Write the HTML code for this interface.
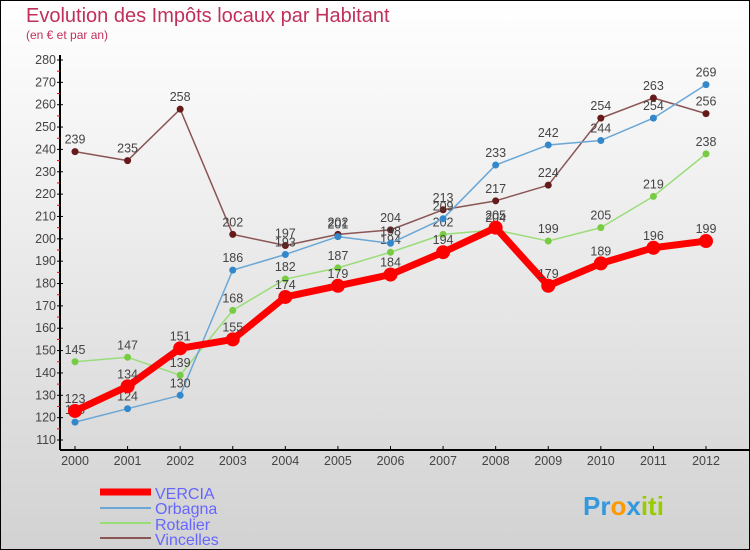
<!DOCTYPE html>
<html><head><meta charset="utf-8"><style>
body{margin:0}
#c{width:750px;height:550px;position:relative;overflow:hidden}
text{font-family:"Liberation Sans",sans-serif}
</style></head><body>
<div id="c">
<svg id="s" width="750" height="550" xmlns="http://www.w3.org/2000/svg">
<defs><linearGradient id="bg" x1="0" y1="0" x2="0" y2="1"><stop offset="0" stop-color="#ffffff"/><stop offset="1" stop-color="#d2d2d2"/></linearGradient></defs>
<rect x="0.5" y="0.5" width="749" height="549" fill="url(#bg)" stroke="#000"/>
<text x="26" y="22" font-size="20" fill="#c0305a">Evolution des Impôts locaux par Habitant</text>
<text x="26" y="39" font-size="12" fill="#c0305a">(en € et par an)</text>
<g id="axes"></g><g id="series"></g>
<g>
<line x1="100" y1="492" x2="151" y2="492" stroke="#ff0000" stroke-width="7"/>
<text x="155" y="499" font-size="16" fill="#6666ff">VERCIA</text>
<line x1="100" y1="508" x2="151" y2="508" stroke="#6aa7d6" stroke-width="2"/>
<text x="155" y="514" font-size="16" fill="#6666ff">Orbagna</text>
<line x1="100" y1="523" x2="151" y2="523" stroke="#99dd77" stroke-width="2"/>
<text x="155" y="530" font-size="16" fill="#6666ff">Rotalier</text>
<line x1="100" y1="538" x2="151" y2="538" stroke="#8a5555" stroke-width="2"/>
<text x="155" y="545" font-size="16" fill="#6666ff">Vincelles</text>
</g>
<text x="583" y="515" font-size="26" font-weight="bold"><tspan fill="#3399dd">Pr</tspan><tspan fill="#ff9900">o</tspan><tspan fill="#3399dd">x</tspan><tspan fill="#99cc00">iti</tspan></text>
</svg></div>
<script>
const years=[2000,2001,2002,2003,2004,2005,2006,2007,2008,2009,2010,2011,2012];
const yTicks=[110,120,130,140,150,160,170,180,190,200,210,220,230,240,250,260,270,280];
const vercia=[123,134,151,155,174,179,184,194,205,179,189,196,199];
const orbagna=[118,124,130,186,193,201,198,209,233,242,244,254,269];
const rotalier=[145,147,139,168,182,187,194,202,204,199,205,219,238];
const vincelles=[239,235,258,202,197,202,204,213,217,224,254,263,256];
const NS="http://www.w3.org/2000/svg";
const X=i=>75+i*(706-75)/12;
const Y=v=>60+(280-v)*(440-60)/170;
function mk(t,a,p){const e=document.createElementNS(NS,t);for(const k in a)e.setAttribute(k,a[k]);p.appendChild(e);return e;}
const ax=document.getElementById('axes');
let yl=mk('line',{x1:60,y1:55,x2:60,y2:450,stroke:'#000','stroke-width':2},ax);


let xl=mk('line',{x1:60,y1:450,x2:750,y2:450,stroke:'#000','stroke-width':2},ax);


yTicks.forEach(v=>{
 mk('line',{x1:57,y1:Y(v),x2:63,y2:Y(v),stroke:'#000'},ax);
 if(v<280)mk('line',{x1:57,y1:Y(v+5),x2:60,y2:Y(v+5),stroke:'#f00'},ax);
 const t=mk('text',{x:56,y:Y(v)+4,'font-size':12.5,fill:'#444','text-anchor':'end'},ax);t.textContent=v;
 
 
});
years.forEach((y,i)=>{
 mk('line',{x1:X(i),y1:446,x2:X(i),y2:450,stroke:'#000'},ax);
 const t=mk('text',{x:X(i),y:465,'font-size':12.5,fill:'#444','text-anchor':'middle'},ax);t.textContent=y;
 
 
});
const sg=document.getElementById('series');
function series(name,vals,col,w,r,dot){
 const g=mk('g',{},sg);
 
 
 mk('polyline',{points:vals.map((v,i)=>X(i)+','+Y(v)).join(' '),fill:'none',stroke:col,'stroke-width':w,'stroke-linejoin':'round'},g);
 vals.forEach((v,i)=>{
  const c=mk('circle',{cx:X(i),cy:Y(v),r:r,fill:dot},g);
  
  
  const t=mk('text',{x:X(i),y:Y(v)-8,'font-size':12.5,fill:'#444','text-anchor':'middle'},g);t.textContent=v;
 });
}
series('vincelles',vincelles,'#8a5555',1.5,3.5,'#661a1a');
series('rotalier',rotalier,'#99dd77',1.5,3.5,'#77cc44');
series('orbagna',orbagna,'#6aa7d6',1.5,3.5,'#3388cc');
series('vercia',vercia,'#ff0000',7,7,'#ff0000');
</script>
</body></html>
